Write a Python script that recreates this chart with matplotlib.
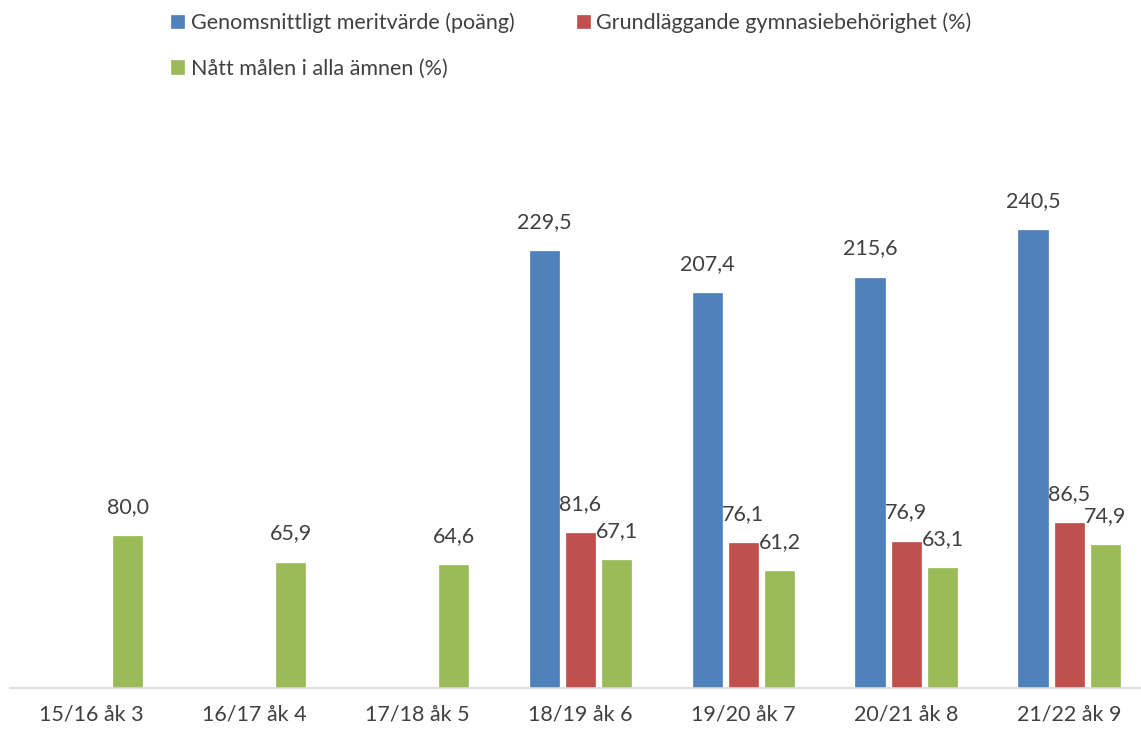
import numpy as np
import matplotlib.pyplot as plt

categories = ["15/16 åk 3", "16/17 åk 4", "17/18 åk 5", "18/19 åk 6",
              "19/20 åk 7", "20/21 åk 8", "21/22 åk 9"]
meritvarde = [None, None, None, 229.5, 207.4, 215.6, 240.5]
behorighet = [None, None, None, 81.6, 76.1, 76.9, 86.5]
natt_malen = [80.0, 65.9, 64.6, 67.1, 61.2, 63.1, 74.9]

labels = ["Genomsnittligt meritvärde (poäng)", "Grundläggande gymnasiebehörighet (%)",
          "Nått målen i alla ämnen (%)"]
colors = ["#4f81bd", "#c0504d", "#9bbb59"]

plt.rcParams['font.family'] = ['Lato', 'DejaVu Sans']

fig = plt.figure(figsize=(11.41, 7.29), dpi=100)
ax = fig.add_axes([10 / 1141, 41 / 729, 1131 / 1141, 538 / 729])

x = np.arange(len(categories))
width = 0.18
step = 0.222
handles = []
for k, (vals, lab, col) in enumerate(zip([meritvarde, behorighet, natt_malen], labels, colors)):
    xs = [xi + (k - 1) * step for xi, v in zip(x, vals) if v is not None]
    vs = [v for v in vals if v is not None]
    b = ax.bar(xs, vs, width, color=col, label=lab, edgecolor=col, linewidth=0.5)
    handles.append(b)
    for xi, v in zip(xs, vs):
        ax.text(xi, v + 10, f"{v:.1f}".replace(".", ","), ha="center", va="bottom",
                fontsize=15.5, color="#404040")

ax.set_xlim(-0.5, 6.44)
ax.set_ylim(0, 282.6)
ax.set_xticks(x)
ax.set_xticklabels(categories, fontsize=15.5, color="#404040")
ax.tick_params(axis="x", length=0, pad=12)
ax.set_yticks([])
for s in ["top", "right", "left"]:
    ax.spines[s].set_visible(False)
ax.spines["bottom"].set_color("#d9d9d9")
ax.spines["bottom"].set_linewidth(1.2)

# column-major fill: blue, green in column 1; red in column 2
order = [0, 2, 1]
fig.legend(handles=[handles[i] for i in order], labels=[labels[i] for i in order],
           loc="upper left", bbox_to_anchor=(166 / 1141, 1 - 7 / 729), ncol=2,
           frameon=False, fontsize=15.5, labelcolor="#404040", handlelength=0.6,
           handleheight=0.6, handletextpad=0.3, columnspacing=2.9, labelspacing=1.2,
           borderaxespad=0.0, borderpad=0.25)

fig.savefig("out.png", dpi=100)
